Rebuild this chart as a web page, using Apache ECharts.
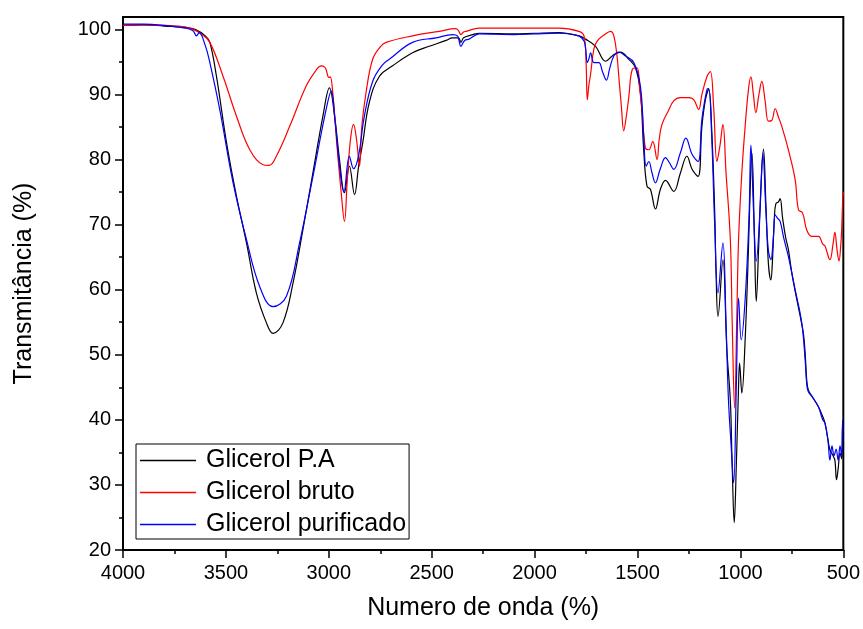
<!DOCTYPE html>
<html>
<head>
<meta charset="utf-8">
<script src="https://cdn.jsdelivr.net/npm/echarts@6/dist/echarts.min.js"></script>
<style>
  html, body { margin: 0; padding: 0; background: #fff; }
  #chart { width: 863px; height: 629px; }
</style>
</head>
<body>
<div id="chart"></div>
<script>
// Glicerol P.A
var paWave = [4000, 3900, 3800, 3700, 3650, 3600, 3578, 3546, 3497, 3449, 3400, 3352, 3303, 3271, 3223, 3174, 3126, 3077, 3029, 2997, 2972, 2948, 2924, 2900, 2875, 2855, 2835, 2803, 2754, 2690, 2593, 2512, 2430, 2399, 2370, 2358, 2345, 2300, 2269, 2100, 2000, 1882, 1785, 1752, 1704, 1655, 1620, 1583, 1542, 1510, 1486, 1470, 1454, 1437, 1413, 1389, 1364, 1324, 1292, 1260, 1235, 1206, 1187, 1170, 1154, 1140, 1125, 1118, 1109, 1085, 1066, 1049, 1040, 1030, 1020, 1010, 1004, 993, 977, 961, 949, 944, 932, 923, 912, 900, 888, 876, 864, 852, 845, 835, 828, 815, 807, 795, 780, 767, 750, 726, 710, 694, 685, 678, 670, 650, 621, 600, 589, 575, 565, 550, 541, 533, 525, 516, 508, 503, 500];
var paT = [100.6, 100.7, 100.5, 100.3, 100.0, 99.0, 98.0, 92.8, 82.6, 74.4, 67.2, 59.5, 54.9, 53.3, 54.9, 61.0, 69.2, 78.0, 86.6, 91.0, 86.7, 80.0, 74.9, 79.0, 74.6, 79.0, 82.6, 88.8, 92.8, 94.4, 96.4, 97.4, 98.3, 98.7, 98.7, 98.0, 98.7, 99.2, 99.4, 99.3, 99.4, 99.5, 99.0, 98.5, 97.4, 95.1, 96.0, 96.5, 95.4, 94.1, 90.3, 81.5, 75.9, 75.4, 72.4, 75.4, 76.8, 75.1, 77.9, 80.5, 78.5, 77.4, 85.1, 89.2, 90.8, 85.0, 72.0, 62.0, 55.9, 64.6, 50.8, 43.0, 33.0, 24.2, 33.0, 44.0, 48.7, 44.1, 52.3, 66.2, 79.0, 81.0, 68.0, 58.2, 66.0, 76.0, 81.6, 73.0, 64.0, 61.5, 64.0, 71.0, 73.2, 73.5, 74.0, 71.0, 68.0, 66.2, 62.5, 58.5, 56.0, 53.3, 50.0, 46.2, 44.6, 43.5, 42.0, 40.5, 39.5, 37.0, 35.4, 34.5, 33.8, 30.8, 32.5, 34.9, 34.0, 39.5, 40.0];

// Glicerol bruto
var brutoWave = [4000, 3900, 3800, 3700, 3659, 3620, 3578, 3514, 3449, 3384, 3320, 3290, 3255, 3190, 3110, 3060, 3037, 3020, 3013, 3000, 2993, 2980, 2960, 2940, 2924, 2910, 2895, 2880, 2865, 2851, 2840, 2819, 2787, 2750, 2722, 2593, 2463, 2382, 2370, 2358, 2345, 2334, 2269, 2000, 1882, 1785, 1760, 1750, 1744, 1736, 1728, 1712, 1696, 1660, 1631, 1615, 1600, 1591, 1578, 1567, 1555, 1542, 1526, 1502, 1490, 1478, 1462, 1445, 1426, 1405, 1395, 1381, 1350, 1324, 1292, 1251, 1227, 1203, 1187, 1162, 1146, 1130, 1114, 1100, 1085, 1070, 1049, 1040, 1028, 1018, 1009, 993, 977, 960, 949, 937, 925, 910, 896, 880, 864, 848, 831, 815, 799, 767, 734, 718, 698, 678, 654, 621, 600, 589, 565, 550, 541, 530, 521, 512, 508, 503, 500];
var brutoT = [100.6, 100.7, 100.6, 100.4, 100.0, 99.3, 98.0, 92.8, 86.7, 81.5, 79.2, 79.1, 80.5, 85.1, 91.3, 93.8, 94.4, 94.2, 93.8, 92.6, 92.7, 90.0, 82.0, 75.0, 70.5, 77.0, 83.0, 85.4, 83.0, 79.0, 85.0, 90.3, 95.4, 97.3, 98.0, 99.0, 99.7, 100.1, 99.8, 99.2, 99.6, 99.7, 100.2, 100.2, 100.2, 99.7, 99.0, 95.0, 89.2, 91.5, 93.1, 97.0, 98.2, 99.2, 99.7, 99.0, 96.0, 92.8, 88.0, 84.4, 86.5, 89.7, 93.8, 94.1, 91.0, 87.7, 81.8, 81.5, 82.8, 80.0, 83.0, 85.4, 87.5, 89.0, 89.5, 89.5, 89.2, 87.7, 90.0, 92.8, 93.5, 88.0, 79.7, 82.0, 85.4, 78.0, 67.7, 55.0, 41.8, 55.0, 67.7, 78.0, 85.1, 91.0, 92.7, 90.0, 87.2, 90.0, 92.0, 89.0, 85.9, 86.0, 87.8, 86.5, 85.1, 81.5, 76.9, 72.3, 71.8, 69.2, 68.2, 68.2, 67.0, 66.7, 64.6, 67.0, 68.8, 66.0, 64.4, 67.0, 69.2, 73.8, 75.0];

// Glicerol purificado
var purWave = [4000, 3900, 3800, 3700, 3660, 3643, 3630, 3600, 3578, 3530, 3465, 3400, 3336, 3271, 3206, 3142, 3077, 3013, 2988, 2970, 2948, 2927, 2900, 2880, 2856, 2827, 2787, 2740, 2706, 2593, 2479, 2399, 2375, 2358, 2340, 2318, 2269, 2100, 2000, 1882, 1785, 1760, 1752, 1744, 1736, 1728, 1712, 1688, 1670, 1651, 1635, 1615, 1591, 1558, 1518, 1486, 1470, 1458, 1445, 1430, 1413, 1390, 1364, 1345, 1324, 1292, 1265, 1235, 1206, 1187, 1162, 1154, 1140, 1125, 1109, 1085, 1070, 1058, 1045, 1033, 1020, 1009, 996, 977, 958, 949, 936, 923, 905, 891, 876, 864, 852, 840, 831, 820, 807, 790, 767, 734, 702, 685, 678, 670, 650, 621, 600, 589, 575, 565, 555, 545, 535, 525, 516, 508, 503, 500];
var purT = [100.8, 100.8, 100.6, 100.2, 99.8, 99.0, 99.5, 97.5, 94.9, 87.7, 76.4, 67.7, 60.5, 57.4, 59.0, 67.2, 77.4, 87.7, 90.5, 86.0, 79.0, 75.0, 80.5, 78.6, 80.5, 86.7, 92.0, 94.5, 95.4, 98.0, 98.7, 99.2, 99.0, 97.4, 98.3, 98.5, 99.3, 99.2, 99.3, 99.4, 99.0, 98.2, 97.0, 94.9, 95.5, 96.4, 94.9, 94.9, 93.5, 92.2, 94.0, 95.9, 96.5, 95.9, 94.9, 91.3, 83.6, 79.0, 79.7, 78.0, 76.4, 78.5, 80.3, 79.5, 78.5, 81.0, 83.3, 80.8, 79.7, 86.2, 90.8, 90.9, 84.0, 70.0, 59.5, 67.2, 55.0, 43.0, 36.0, 30.3, 45.0, 58.7, 52.3, 58.5, 71.3, 82.2, 72.0, 64.4, 72.0, 81.0, 72.0, 66.0, 64.6, 68.0, 71.5, 71.0, 70.5, 68.0, 65.1, 60.0, 54.9, 49.0, 45.6, 44.3, 43.5, 42.0, 40.0, 39.5, 37.0, 33.8, 36.0, 34.5, 35.5, 33.8, 36.0, 34.5, 40.0, 40.0];

var yTicks = [20, 30, 40, 50, 60, 70, 80, 90, 100];

function zip(xs, ys) {
  return xs.map(function (x, i) { return [x, ys[i]]; });
}

var font = "'Liberation Sans', Arial, sans-serif";
var chart = echarts.init(document.getElementById('chart'));

function line(name, color, xs, ys) {
  return {
    name: name,
    type: 'line',
    data: zip(xs, ys),
    symbol: 'none',
    smooth: 0.4,
    lineStyle: { color: color, width: 1.2 },
    itemStyle: { color: color },
    animation: false
  };
}

chart.setOption({
  backgroundColor: '#fff',
  animation: false,
  grid: {
    left: 123, right: 18, top: 17, bottom: 79,
    show: true, borderColor: '#000', borderWidth: 2, backgroundColor: 'transparent'
  },
  legend: {
    orient: 'vertical',
    left: 136,
    top: 444,
    backgroundColor: '#fff',
    borderColor: '#000',
    borderWidth: 1,
    borderRadius: 0,
    padding: [4, 3, 2, 4],
    icon: 'rect',
    itemWidth: 56,
    itemHeight: 1.3,
    itemGap: 7,
    textStyle: { fontFamily: font, fontSize: 25, lineHeight: 25, color: '#000', padding: [0, 0, 0, 5] },
    data: ['Glicerol P.A', 'Glicerol bruto', 'Glicerol purificado']
  },
  xAxis: {
    type: 'value',
    inverse: true,
    min: 500,
    max: 4000,
    interval: 500,
    name: 'Numero de onda (%)',
    nameLocation: 'middle',
    nameGap: 46,
    nameTextStyle: { fontFamily: font, fontSize: 25, color: '#000' },
    axisLine: { onZero: false, lineStyle: { color: '#000', width: 2 } },
    axisTick: { show: true, inside: false, length: 8, lineStyle: { color: '#000', width: 1.5 } },
    minorTick: { show: true, splitNumber: 2, length: 4, lineStyle: { color: '#000', width: 1.5 } },
    axisLabel: { fontFamily: font, fontSize: 20, color: '#000', margin: 13, formatter: function (v) { return String(v); } },
    splitLine: { show: false }
  },
  yAxis: {
    type: 'value',
    min: 20,
    max: 101.9,
    interval: 10,
    name: 'Transmitância (%)',
    nameLocation: 'middle',
    nameGap: 86,
    nameRotate: 90,
    nameTextStyle: { fontFamily: font, fontSize: 25, color: '#000' },
    axisLine: { onZero: false, lineStyle: { color: '#000', width: 2 } },
    axisTick: { show: true, inside: false, length: 8, customValues: yTicks, lineStyle: { color: '#000', width: 1.5 } },
    minorTick: { show: true, splitNumber: 2, length: 4, lineStyle: { color: '#000', width: 1.5 } },
    axisLabel: { fontFamily: font, fontSize: 20, color: '#000', margin: 12, customValues: yTicks },
    splitLine: { show: false }
  },
  series: [
    line('Glicerol P.A', '#000000', paWave, paT),
    line('Glicerol bruto', '#ff0000', brutoWave, brutoT),
    line('Glicerol purificado', '#0000ff', purWave, purT)
  ]
});
</script>
</body>
</html>
